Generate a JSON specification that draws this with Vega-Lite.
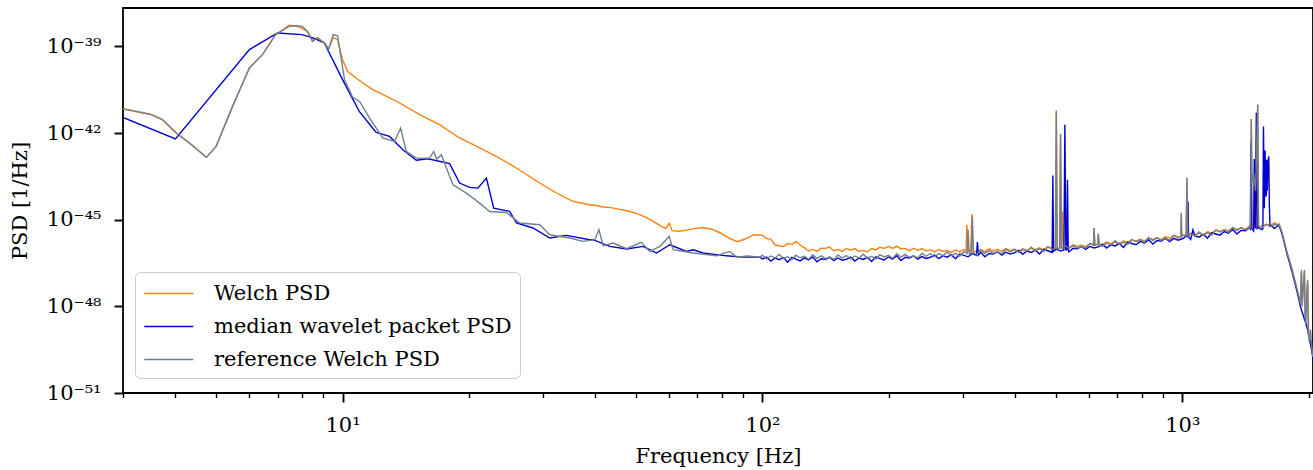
{
  "$schema": "https://vega.github.io/schema/vega-lite/v6.json",
  "width": 1190,
  "height": 385,
  "autosize": {"type": "none"},
  "padding": {"left": 123, "top": 8, "right": 0, "bottom": 77},
  "background": "white",
  "config": {
    "view": {"stroke": "black", "strokeWidth": 1.8},
    "font": "DejaVu Serif"
  },
  "datasets": {
    "welch": [
      {"f":3.0,"p":6.82e-42},{"f":3.49,"p":4.34e-42},{"f":3.72,"p":2.91e-42},{"f":4.01,"p":1.0e-42},{"f":4.31,"p":4.54e-43},{"f":4.74,"p":1.44e-43},{"f":5.0,"p":3.46e-43},{"f":5.47,"p":8.39e-42},{"f":6.0,"p":1.79e-40},{"f":6.45,"p":5.19e-40},{"f":6.93,"p":2.56e-39},{"f":7.46,"p":5.37e-39},{"f":7.88,"p":4.73e-39},{"f":8.25,"p":3.33e-39},{"f":8.48,"p":1.63e-39},{"f":8.71,"p":1.97e-39},{"f":9.05,"p":1.32e-39},{"f":9.26,"p":8.18e-40},{"f":9.5,"p":2.06e-39},{"f":9.73,"p":1.72e-39},{"f":10.0,"p":3.48e-40},{"f":10.28,"p":1.37e-40},{"f":10.76,"p":8.09e-41},{"f":11.79,"p":3.18e-41},{"f":12.25,"p":2.45e-41},{"f":13.68,"p":1.1e-41},{"f":15.26,"p":4.34e-42},{"f":17.03,"p":1.95e-42},{"f":19.0,"p":6.76e-43},{"f":21.21,"p":3.05e-43},{"f":23.25,"p":1.56e-43},{"f":25.95,"p":6.18e-44},{"f":29.49,"p":1.87e-44},{"f":32.31,"p":8.41e-45},{"f":35.4,"p":4.31e-45},{"f":38.8,"p":3.31e-45},
      {"f":39.81,"p":3.16e-45},{"f":41.69,"p":2.75e-45},{"f":43.65,"p":2.63e-45},{"f":45.71,"p":2.29e-45},{"f":47.86,"p":2.0e-45},{"f":50.12,"p":1.66e-45},{"f":52.48,"p":1.26e-45},{"f":54.95,"p":8.71e-46},{"f":57.54,"p":5.75e-46},{"f":58.88,"p":5.01e-46},{"f":60.0,"p":7.59e-46},{"f":60.95,"p":4.17e-46},{"f":63.1,"p":3.98e-46},{"f":66.07,"p":4.37e-46},{"f":69.18,"p":5.01e-46},{"f":72.44,"p":5.25e-46},{"f":75.86,"p":4.68e-46},{"f":79.43,"p":3.47e-46},{"f":83.18,"p":2.29e-46},{"f":87.1,"p":1.74e-46},{"f":91.2,"p":2.19e-46},{"f":95.5,"p":3.02e-46},
      {"f":100,"p":2.91e-46},{"f":102.3,"p":2.22e-46},{"f":104.7,"p":2.14e-46},{"f":107.2,"p":1.33e-46},{"f":109.6,"p":1.25e-46},{"f":112.2,"p":1.17e-46},{"f":114.8,"p":1.49e-46},{"f":117.5,"p":1.4e-46},{"f":120.2,"p":1.78e-46},{"f":123.0,"p":1.33e-46},{"f":125.9,"p":1.08e-46},{"f":128.8,"p":8.24e-47},{"f":131.8,"p":9.33e-47},{"f":134.9,"p":8.0e-47},{"f":138.0,"p":1.04e-46},{"f":141.3,"p":1.02e-46},{"f":144.5,"p":1.13e-46},{"f":147.9,"p":8.43e-47},{"f":151.4,"p":9.33e-47},{"f":154.9,"p":8.0e-47},{"f":158.5,"p":1.01e-46},{"f":162.2,"p":8.83e-47},{"f":166.0,"p":1.0e-46},{"f":169.8,"p":8.0e-47},{"f":173.8,"p":8.65e-47},{"f":177.8,"p":7.76e-47},{"f":182.0,"p":1.01e-46},{"f":186.2,"p":9.04e-47},{"f":190.5,"p":1.12e-46},{"f":195.0,"p":1.01e-46},{"f":199.5,"p":1.19e-46},{"f":204.2,"p":1.01e-46},{"f":208.9,"p":1.2e-46},{"f":213.8,"p":9.84e-47},{"f":218.8,"p":1.02e-46},{"f":223.9,"p":8.51e-47},{"f":229.1,"p":1.03e-46},{"f":234.4,"p":8.63e-47},{"f":239.9,"p":1.0e-46},{"f":245.5,"p":8.38e-47},{"f":251.2,"p":9.2e-47},{"f":257.0,"p":7.69e-47},{"f":263.0,"p":9.33e-47},{"f":269.2,"p":8.0e-47},{"f":275.4,"p":8.65e-47},{"f":281.8,"p":7.41e-47},{"f":288.4,"p":8.99e-47},{"f":295.1,"p":7.69e-47},{"f":302.0,"p":9.33e-47},{"f":305.5,"p":8.5e-47},{"f":306.8,"p":6.71e-46},{"f":309.0,"p":8.0e-47},{"f":313.5,"p":8.5e-47},{"f":315.5,"p":1.57e-45},{"f":317.5,"p":8.5e-47},{"f":323.6,"p":7.59e-47},{"f":331.1,"p":9.2e-47},{"f":338.8,"p":7.87e-47},{"f":346.7,"p":9.77e-47},{"f":354.8,"p":8.38e-47},{"f":363.1,"p":9.42e-47},{"f":371.5,"p":8.05e-47},{"f":380.2,"p":1.0e-46},{"f":389.0,"p":8.57e-47},{"f":398.1,"p":9.27e-47},{"f":407.4,"p":8.13e-47},{"f":416.9,"p":9.86e-47},{"f":426.6,"p":8.63e-47},{"f":436.5,"p":1.05e-46},{"f":446.7,"p":9.18e-47},{"f":457.1,"p":1.06e-46},{"f":467.7,"p":9.25e-47},{"f":478.6,"p":1.15e-46},{"f":489.8,"p":1.01e-46},{"f":498.5,"p":1.0e-46},{"f":501.2,"p":5.5e-42},{"f":503.5,"p":1.0e-46},{"f":510.5,"p":1.05e-46},{"f":512.9,"p":8.7e-43},{"f":515.5,"p":1.05e-46},{"f":518.4,"p":1.95e-45},{"f":521.0,"p":1.1e-46},{"f":524.8,"p":1.21e-46},{"f":537.0,"p":1.06e-46},{"f":549.5,"p":1.35e-46},{"f":562.3,"p":1.18e-46},{"f":575.4,"p":1.31e-46},{"f":588.8,"p":1.17e-46},{"f":602.6,"p":1.46e-46},{"f":614.5,"p":1.35e-46},{"f":616.6,"p":5.13e-46},{"f":619.0,"p":1.35e-46},{"f":629.0,"p":1.41e-46},{"f":631.0,"p":3.24e-46},{"f":633.5,"p":1.41e-46},{"f":645.7,"p":1.37e-46},{"f":660.7,"p":1.7e-46},{"f":676.1,"p":1.49e-46},{"f":691.8,"p":1.69e-46},{"f":707.9,"p":1.48e-46},{"f":724.4,"p":1.84e-46},{"f":741.3,"p":1.64e-46},{"f":758.6,"p":2.04e-46},{"f":776.2,"p":1.83e-46},{"f":794.3,"p":2.11e-46},{"f":812.8,"p":1.85e-46},{"f":831.8,"p":2.34e-46},{"f":851.1,"p":2.06e-46},{"f":871.0,"p":2.33e-46},{"f":891.3,"p":2.04e-46},{"f":912.0,"p":2.59e-46},{"f":933.3,"p":2.27e-46},{"f":955.0,"p":2.88e-46},{"f":977.2,"p":2.53e-46},{"f":992.0,"p":2.6e-46},{"f":994.5,"p":1.7e-45},{"f":997.0,"p":2.6e-46},{"f":1000,"p":2.98e-46},{"f":1021,"p":2.8e-46},{"f":1026,"p":2.5e-44},{"f":1031,"p":2.8e-46},{"f":1047,"p":3.39e-46},{"f":1072,"p":2.97e-46},{"f":1096,"p":3.37e-46},{"f":1122,"p":3.02e-46},{"f":1148,"p":3.84e-46},{"f":1175,"p":3.44e-46},{"f":1202,"p":4.37e-46},{"f":1230,"p":3.92e-46},{"f":1259,"p":4.61e-46},{"f":1288,"p":4.13e-46},{"f":1318,"p":5.25e-46},{"f":1349,"p":4.6e-46},{"f":1380,"p":5.21e-46},{"f":1413,"p":4.68e-46},{"f":1445,"p":5.94e-46},{"f":1455,"p":5.5e-46},{"f":1460,"p":3.0e-42},{"f":1466,"p":5.5e-46},{"f":1479,"p":5.32e-46},{"f":1509,"p":5.6e-46},{"f":1514,"p":9.6e-42},{"f":1519,"p":5.8e-46},{"f":1549,"p":5.93e-46},{"f":1585,"p":6.98e-46},{"f":1622,"p":6.25e-46},{"f":1660,"p":7.94e-46},{"f":1681,"p":6.76e-46},{"f":1700,"p":7.0e-46},{"f":1729,"p":3.5e-46},{"f":1777,"p":7.2e-47},{"f":1826,"p":1.9e-47},{"f":1877,"p":3.9e-48},{"f":1911,"p":1.3e-48},{"f":1922,"p":1.5e-47},{"f":1930,"p":1.1e-48},{"f":1954,"p":1.6e-47},{"f":1965,"p":4.0e-49},{"f":1989,"p":7.0e-48},{"f":2000,"p":1.2e-49},{"f":2038,"p":2.8e-50},{"f":2048,"p":1.9e-50}
    ],
    "median": [
      {"f":3.0,"p":3.49e-42},{"f":4.0,"p":6.24e-43},{"f":6.0,"p":7.73e-40},{"f":7.0,"p":2.93e-39},{"f":8.0,"p":2.56e-39},{"f":8.5,"p":1.97e-39},{"f":9.05,"p":1.32e-39},{"f":10.0,"p":7.06e-41},{"f":10.96,"p":5.64e-42},{"f":11.79,"p":1.5e-42},{"f":12.03,"p":1.06e-42},{"f":12.94,"p":7.67e-43},{"f":13.92,"p":2.65e-43},{"f":14.99,"p":1.15e-43},{"f":15.97,"p":1.29e-43},{"f":17.99,"p":8.71e-44},{"f":19.0,"p":1.86e-44},{"f":20.08,"p":1.32e-44},{"f":21.01,"p":1.24e-44},{"f":22.01,"p":2.77e-44},{"f":22.91,"p":2.53e-45},{"f":25.0,"p":1.95e-45},{"f":25.95,"p":7.76e-46},{"f":28.42,"p":5.16e-46},{"f":31.15,"p":2.32e-46},{"f":34.14,"p":2.86e-46},{"f":38.8,"p":2.03e-46},{"f":39.5,"p":2.03e-46},{"f":43.3,"p":1.19e-46},{"f":47.47,"p":9.66e-47},{"f":51.98,"p":1.19e-46},{"f":55.96,"p":7.02e-47},{"f":60.2,"p":1.36e-46},{"f":65.97,"p":7.98e-47},{"f":68.4,"p":9.14e-47},{"f":72.25,"p":7.02e-47},{"f":82.17,"p":5.62e-47},{"f":90.0,"p":5.07e-47},{"f":98.6,"p":5.07e-47},
      {"f":100,"p":4.37e-47},{"f":102.3,"p":5.07e-47},{"f":104.7,"p":3.72e-47},{"f":107.2,"p":4.73e-47},{"f":109.6,"p":4.12e-47},{"f":112.2,"p":4.9e-47},{"f":114.8,"p":3.39e-47},{"f":117.5,"p":4.95e-47},{"f":120.2,"p":4.32e-47},{"f":123.0,"p":3.76e-47},{"f":125.9,"p":4.79e-47},{"f":128.8,"p":4.03e-47},{"f":131.8,"p":5.13e-47},{"f":134.9,"p":3.51e-47},{"f":138.0,"p":4.47e-47},{"f":141.3,"p":4.17e-47},{"f":144.5,"p":5.07e-47},{"f":147.9,"p":3.85e-47},{"f":151.4,"p":4.73e-47},{"f":154.9,"p":3.98e-47},{"f":158.5,"p":4.27e-47},{"f":162.2,"p":5.07e-47},{"f":166.0,"p":3.72e-47},{"f":169.8,"p":4.73e-47},{"f":173.8,"p":4.22e-47},{"f":177.8,"p":5.01e-47},{"f":182.0,"p":3.55e-47},{"f":186.2,"p":5.19e-47},{"f":190.5,"p":4.52e-47},{"f":195.0,"p":4.03e-47},{"f":199.5,"p":5.13e-47},{"f":204.2,"p":4.32e-47},{"f":208.9,"p":5.62e-47},{"f":213.8,"p":3.85e-47},{"f":218.8,"p":5.01e-47},{"f":223.9,"p":4.68e-47},{"f":229.1,"p":5.56e-47},{"f":234.4,"p":4.32e-47},{"f":239.9,"p":5.31e-47},{"f":245.5,"p":4.57e-47},{"f":251.2,"p":5.01e-47},{"f":257.0,"p":5.96e-47},{"f":263.0,"p":4.47e-47},{"f":269.2,"p":5.69e-47},{"f":275.4,"p":5.07e-47},{"f":281.8,"p":6.17e-47},{"f":288.4,"p":4.47e-47},{"f":295.1,"p":6.53e-47},{"f":302.0,"p":5.82e-47},{"f":309.0,"p":5.19e-47},{"f":316.2,"p":6.76e-47},{"f":323.6,"p":5.82e-47},{"f":325.1,"p":1.68e-46},{"f":327.0,"p":6.0e-47},{"f":331.1,"p":7.41e-47},{"f":338.8,"p":5.19e-47},{"f":346.7,"p":6.76e-47},{"f":354.8,"p":6.46e-47},{"f":363.1,"p":7.85e-47},{"f":371.5,"p":5.96e-47},{"f":380.2,"p":7.5e-47},{"f":389.0,"p":6.46e-47},{"f":398.1,"p":7.08e-47},{"f":407.4,"p":8.61e-47},{"f":416.9,"p":6.31e-47},{"f":426.6,"p":8.22e-47},{"f":436.5,"p":7.33e-47},{"f":446.7,"p":8.91e-47},{"f":457.1,"p":6.46e-47},{"f":467.7,"p":9.44e-47},{"f":478.6,"p":8.41e-47},{"f":489.8,"p":7.33e-47},{"f":491.8,"p":3.4e-44},{"f":493.5,"p":8.0e-47},{"f":501.2,"p":9.55e-47},{"f":512.9,"p":8.22e-47},{"f":522.5,"p":9.0e-47},{"f":525.3,"p":1.94e-42},{"f":528.0,"p":9.0e-47},{"f":530.5,"p":9.0e-47},{"f":532.8,"p":2.4e-44},{"f":535.0,"p":9.0e-47},{"f":537.0,"p":7.67e-47},{"f":549.5,"p":1.02e-46},{"f":562.3,"p":9.77e-47},{"f":575.4,"p":1.19e-46},{"f":588.8,"p":9.44e-47},{"f":602.6,"p":1.19e-46},{"f":616.6,"p":1.05e-46},{"f":631.0,"p":1.15e-46},{"f":645.7,"p":1.4e-46},{"f":660.7,"p":1.05e-46},{"f":676.1,"p":1.36e-46},{"f":691.8,"p":1.24e-46},{"f":707.9,"p":1.51e-46},{"f":724.4,"p":1.1e-46},{"f":741.3,"p":1.68e-46},{"f":758.6,"p":1.5e-46},{"f":776.2,"p":1.36e-46},{"f":794.3,"p":1.78e-46},{"f":812.8,"p":1.53e-46},{"f":831.8,"p":2.04e-46},{"f":851.1,"p":1.43e-46},{"f":871.0,"p":1.91e-46},{"f":891.3,"p":1.82e-46},{"f":912.0,"p":2.26e-46},{"f":933.3,"p":1.76e-46},{"f":955.0,"p":2.26e-46},{"f":977.2,"p":1.95e-46},{"f":1000,"p":2.19e-46},{"f":1023,"p":2.72e-46},{"f":1029,"p":2.6e-46},{"f":1032,"p":4.31e-45},{"f":1035,"p":2.6e-46},{"f":1047,"p":2.09e-46},{"f":1060,"p":4.5e-46},{"f":1072,"p":2.72e-46},{"f":1096,"p":2.48e-46},{"f":1122,"p":3.09e-46},{"f":1148,"p":2.29e-46},{"f":1175,"p":3.51e-46},{"f":1202,"p":3.2e-46},{"f":1230,"p":2.92e-46},{"f":1259,"p":3.89e-46},{"f":1288,"p":3.43e-46},{"f":1318,"p":4.57e-46},{"f":1349,"p":3.2e-46},{"f":1380,"p":4.27e-46},{"f":1413,"p":4.17e-46},{"f":1445,"p":5.19e-46},{"f":1452,"p":4.8e-46},{"f":1458,"p":4.61e-43},{"f":1464,"p":5.0e-46},{"f":1479,"p":4.12e-46},{"f":1484,"p":1.26e-43},{"f":1492,"p":5.0e-46},{"f":1501,"p":5.06e-42},{"f":1507,"p":5.0e-46},{"f":1514,"p":5.31e-46},{"f":1549,"p":4.57e-46},{"f":1556,"p":5.0e-46},{"f":1561,"p":1.7e-42},{"f":1568,"p":2.51e-45},{"f":1575,"p":2.51e-43},{"f":1580,"p":6.31e-45},{"f":1585,"p":7.41e-45},{"f":1587,"p":1.2e-43},{"f":1594,"p":1.0e-44},{"f":1600,"p":1.12e-43},{"f":1607,"p":1.55e-43},{"f":1612,"p":3.16e-45},{"f":1618,"p":6.31e-46},{"f":1622,"p":6.38e-46},{"f":1660,"p":4.9e-46},{"f":1681,"p":6.03e-46},{"f":1700,"p":6.31e-46},{"f":1729,"p":3.16e-46},{"f":1777,"p":6.31e-47},{"f":1826,"p":1.58e-47},{"f":1877,"p":3.16e-48},{"f":1911,"p":1.0e-48},{"f":1930,"p":6.31e-49},{"f":1960,"p":3.16e-49},{"f":1989,"p":1.58e-49},{"f":2020,"p":5.01e-50},{"f":2048,"p":1.58e-50}
    ],
    "ref": [
      {"f":3.0,"p":7.0e-42},{"f":3.49,"p":4.5e-42},{"f":3.72,"p":3.0e-42},{"f":4.01,"p":1.05e-42},{"f":4.31,"p":4.7e-43},{"f":4.74,"p":1.44e-43},{"f":5.0,"p":3.46e-43},{"f":5.47,"p":8.4e-42},{"f":6.0,"p":1.8e-40},{"f":6.45,"p":5.3e-40},{"f":6.93,"p":2.6e-39},{"f":7.46,"p":4.93e-39},{"f":7.75,"p":5.2e-39},{"f":8.03,"p":4.93e-39},{"f":8.25,"p":3.25e-39},{"f":8.48,"p":1.49e-39},{"f":8.71,"p":1.97e-39},{"f":9.05,"p":1.32e-39},{"f":9.26,"p":7.69e-40},{"f":9.5,"p":2.56e-39},{"f":9.73,"p":2.34e-39},{"f":10.11,"p":7.03e-41},{"f":10.56,"p":1.77e-41},{"f":10.98,"p":1.24e-41},{"f":11.6,"p":3.31e-42},{"f":12.48,"p":6.71e-43},{"f":13.3,"p":5.13e-43},{"f":13.75,"p":1.49e-42},{"f":14.18,"p":2.31e-43},{"f":14.99,"p":1.36e-43},{"f":16.12,"p":1.36e-43},{"f":16.48,"p":2.31e-43},{"f":16.78,"p":1.26e-43},{"f":17.19,"p":1.78e-43},{"f":18.32,"p":1.62e-44},{"f":19.72,"p":8.32e-45},{"f":21.21,"p":3.76e-45},{"f":22.41,"p":1.92e-45},{"f":24.56,"p":1.78e-45},{"f":26.42,"p":7.69e-46},{"f":29.49,"p":6.71e-46},{"f":31.15,"p":3.02e-46},{"f":34.76,"p":2.32e-46},{"f":37.4,"p":1.78e-46},{"f":39.87,"p":2.03e-46},{"f":40.8,"p":4.51e-46},{"f":41.74,"p":1.26e-46},{"f":44.1,"p":1.56e-46},{"f":47.47,"p":9.9e-47},{"f":51.5,"p":1.64e-46},{"f":53.9,"p":7.98e-47},{"f":57.0,"p":1.19e-46},{"f":59.95,"p":2.63e-46},{"f":61.3,"p":9.14e-47},{"f":68.4,"p":7.02e-47},{"f":77.8,"p":5.66e-47},{"f":83.65,"p":7.98e-47},{"f":86.8,"p":5.07e-47},{"f":92.0,"p":5.6e-47},{"f":98.6,"p":5.07e-47},
      {"f":100,"p":5.89e-47},{"f":102.3,"p":4.37e-47},{"f":104.7,"p":5.56e-47},{"f":107.2,"p":4.73e-47},{"f":109.6,"p":6.24e-47},{"f":112.2,"p":4.57e-47},{"f":114.8,"p":5.21e-47},{"f":117.5,"p":4.12e-47},{"f":120.2,"p":5.89e-47},{"f":123.0,"p":4.82e-47},{"f":125.9,"p":5.43e-47},{"f":128.8,"p":4.27e-47},{"f":131.8,"p":6.1e-47},{"f":134.9,"p":4.62e-47},{"f":138.0,"p":5.62e-47},{"f":141.3,"p":4.47e-47},{"f":144.5,"p":5.13e-47},{"f":147.9,"p":4.22e-47},{"f":151.4,"p":6.03e-47},{"f":154.9,"p":4.73e-47},{"f":158.5,"p":5.75e-47},{"f":162.2,"p":4.37e-47},{"f":166.0,"p":5.56e-47},{"f":169.8,"p":4.73e-47},{"f":173.8,"p":6.38e-47},{"f":177.8,"p":4.68e-47},{"f":182.0,"p":5.46e-47},{"f":186.2,"p":4.32e-47},{"f":190.5,"p":6.17e-47},{"f":195.0,"p":5.16e-47},{"f":199.5,"p":5.82e-47},{"f":204.2,"p":4.57e-47},{"f":208.9,"p":6.68e-47},{"f":213.8,"p":5.07e-47},{"f":218.8,"p":6.31e-47},{"f":223.9,"p":5.01e-47},{"f":229.1,"p":5.62e-47},{"f":234.4,"p":4.73e-47},{"f":239.9,"p":6.76e-47},{"f":245.5,"p":5.43e-47},{"f":251.2,"p":6.76e-47},{"f":257.0,"p":5.13e-47},{"f":263.0,"p":6.68e-47},{"f":269.2,"p":5.69e-47},{"f":275.4,"p":7.67e-47},{"f":281.8,"p":5.75e-47},{"f":288.4,"p":6.87e-47},{"f":295.1,"p":5.43e-47},{"f":302.0,"p":7.94e-47},{"f":307.3,"p":6.76e-47},{"f":309.0,"p":4.47e-46},{"f":310.7,"p":6.76e-47},{"f":314.5,"p":7.08e-47},{"f":316.2,"p":1.3e-45},{"f":318.0,"p":7.08e-47},{"f":323.6,"p":6.17e-47},{"f":331.1,"p":8.81e-47},{"f":338.8,"p":6.84e-47},{"f":346.7,"p":8.51e-47},{"f":354.8,"p":6.92e-47},{"f":363.1,"p":7.94e-47},{"f":371.5,"p":6.53e-47},{"f":380.2,"p":9.55e-47},{"f":389.0,"p":7.67e-47},{"f":398.1,"p":9.55e-47},{"f":407.4,"p":7.41e-47},{"f":416.9,"p":9.44e-47},{"f":426.6,"p":8.22e-47},{"f":436.5,"p":1.11e-46},{"f":446.7,"p":8.32e-47},{"f":457.1,"p":9.93e-47},{"f":467.7,"p":7.85e-47},{"f":478.6,"p":1.15e-46},{"f":489.8,"p":9.4e-47},{"f":498.5,"p":1.0e-46},{"f":501.2,"p":6.07e-42},{"f":503.5,"p":1.0e-46},{"f":510.5,"p":1.05e-46},{"f":512.9,"p":9.25e-43},{"f":515.5,"p":1.0e-46},{"f":524.8,"p":1.3e-46},{"f":537.0,"p":1.01e-46},{"f":549.5,"p":1.29e-46},{"f":562.3,"p":1.05e-46},{"f":575.4,"p":1.2e-46},{"f":588.8,"p":1.04e-46},{"f":602.6,"p":1.51e-46},{"f":614.5,"p":1.32e-46},{"f":616.6,"p":5.13e-46},{"f":619.0,"p":1.32e-46},{"f":629.0,"p":1.38e-46},{"f":631.0,"p":3.24e-46},{"f":633.5,"p":1.38e-46},{"f":645.7,"p":1.2e-46},{"f":660.7,"p":1.57e-46},{"f":676.1,"p":1.36e-46},{"f":691.8,"p":1.88e-46},{"f":707.9,"p":1.41e-46},{"f":724.4,"p":1.69e-46},{"f":741.3,"p":1.4e-46},{"f":758.6,"p":2.04e-46},{"f":776.2,"p":1.75e-46},{"f":794.3,"p":2.02e-46},{"f":812.8,"p":1.62e-46},{"f":831.8,"p":2.43e-46},{"f":851.1,"p":1.88e-46},{"f":871.0,"p":2.4e-46},{"f":891.3,"p":1.95e-46},{"f":912.0,"p":2.29e-46},{"f":933.3,"p":1.93e-46},{"f":955.0,"p":2.88e-46},{"f":977.2,"p":2.32e-46},{"f":992.0,"p":2.51e-46},{"f":994.5,"p":1.7e-45},{"f":997.0,"p":2.51e-46},{"f":1000,"p":2.95e-46},{"f":1021,"p":2.75e-46},{"f":1026,"p":2.92e-44},{"f":1031,"p":2.75e-46},{"f":1047,"p":3.13e-46},{"f":1072,"p":2.72e-46},{"f":1096,"p":3.76e-46},{"f":1122,"p":2.88e-46},{"f":1148,"p":3.52e-46},{"f":1175,"p":2.92e-46},{"f":1202,"p":4.37e-46},{"f":1230,"p":3.74e-46},{"f":1259,"p":4.42e-46},{"f":1288,"p":3.63e-46},{"f":1318,"p":5.43e-46},{"f":1349,"p":4.22e-46},{"f":1380,"p":5.37e-46},{"f":1413,"p":4.47e-46},{"f":1445,"p":5.25e-46},{"f":1455,"p":5.37e-46},{"f":1460,"p":3.05e-42},{"f":1466,"p":2.0e-44},{"f":1479,"p":4.0e-44},{"f":1495,"p":1.0e-44},{"f":1512,"p":9.57e-42},{"f":1519,"p":6.0e-46},{"f":1549,"p":5.43e-46},{"f":1585,"p":6.92e-46},{"f":1622,"p":5.75e-46},{"f":1660,"p":6.76e-46},{"f":1681,"p":6.76e-46},{"f":1700,"p":6.92e-46},{"f":1729,"p":3.47e-46},{"f":1777,"p":7.08e-47},{"f":1826,"p":1.86e-47},{"f":1877,"p":3.8e-48},{"f":1911,"p":1.26e-48},{"f":1922,"p":1.82e-47},{"f":1930,"p":1.0e-48},{"f":1944,"p":6.31e-48},{"f":1954,"p":1.82e-47},{"f":1960,"p":5.01e-49},{"f":1970,"p":2.51e-49},{"f":1980,"p":3.16e-48},{"f":1989,"p":8.32e-48},{"f":1995,"p":1.26e-49},{"f":2005,"p":6.31e-50},{"f":2020,"p":1.58e-49},{"f":2038,"p":2.51e-50},{"f":2048,"p":1.78e-50}
    ]
  },
  "encoding": {
    "x": {
      "field": "f",
      "type": "quantitative",
      "scale": {"type": "log", "domain": [3, 2048], "nice": false},
      "axis": {
        "title": "Frequency [Hz]",
        "values": [3,4,5,6,7,8,9,10,20,30,40,50,60,70,80,90,100,200,300,400,500,600,700,800,900,1000,2000],
        "labelExpr": "datum.value == 10 ? '10¹' : datum.value == 100 ? '10²' : datum.value == 1000 ? '10³' : ''",
        "labelOverlap": false,
        "labelFlush": false,
        "grid": false,
        "domain": false,
        "tickColor": "black",
        "tickSize": {"condition": {"test": "datum.value == 10 || datum.value == 100 || datum.value == 1000", "value": 9}, "value": 4.5},
        "tickWidth": {"condition": {"test": "datum.value == 10 || datum.value == 100 || datum.value == 1000", "value": 1.9}, "value": 1.4},
        "labelFont": "DejaVu Serif",
        "labelFontSize": 21,
        "labelColor": "black",
        "labelPadding": 12,
        "titleFont": "DejaVu Serif",
        "titleFontSize": 21,
        "titleFontWeight": "normal",
        "titleColor": "black",
        "titlePadding": 10
      }
    },
    "y": {
      "field": "p",
      "type": "quantitative",
      "scale": {"type": "log", "domain": [1e-51, 2.14e-38], "nice": false},
      "axis": {
        "title": "PSD [1/Hz]",
        "values": [1e-51, 1e-48, 1e-45, 1e-42, 1e-39],
        "labelExpr": "datum.value < 1e-50 ? '10⁻⁵¹' : datum.value < 1e-47 ? '10⁻⁴⁸' : datum.value < 1e-44 ? '10⁻⁴⁵' : datum.value < 1e-41 ? '10⁻⁴²' : '10⁻³⁹'",
        "labelOverlap": false,
        "labelFlush": false,
        "grid": false,
        "domain": false,
        "tickColor": "black",
        "tickSize": 9,
        "tickWidth": 1.9,
        "labelFont": "DejaVu Serif",
        "labelFontSize": 21,
        "labelColor": "black",
        "labelPadding": 13,
        "titleFont": "DejaVu Serif",
        "titleFontSize": 21,
        "titleFontWeight": "normal",
        "titleColor": "black",
        "titlePadding": 16
      }
    }
  },
  "layer": [
    {
      "data": {"name": "welch"},
      "mark": {"type": "line", "strokeWidth": 1.4, "clip": true},
      "encoding": {
        "color": {
          "datum": "Welch PSD",
          "type": "nominal",
          "scale": {"domain": ["Welch PSD", "median wavelet packet PSD", "reference Welch PSD"], "range": ["#ff7f0e", "#0000cd", "#708090"]},
          "legend": {
            "orient": "none",
            "legendX": 12,
            "legendY": 264,
            "title": null,
            "symbolType": "M-1,0H3",
            "symbolSize": 600,
            "symbolStrokeWidth": 1.6,
            "labelFont": "DejaVu Serif",
            "labelFontSize": 21,
            "labelColor": "black",
            "labelOffset": 44,
            "labelLimit": 0,
            "rowPadding": 9,
            "padding": 8,
            "strokeColor": "#cccccc",
            "fillColor": "rgba(255,255,255,0.8)",
            "cornerRadius": 5
          }
        }
      }
    },
    {
      "data": {"name": "median"},
      "mark": {"type": "line", "strokeWidth": 1.4, "clip": true},
      "encoding": {"color": {"datum": "median wavelet packet PSD", "type": "nominal"}}
    },
    {
      "data": {"name": "ref"},
      "mark": {"type": "line", "strokeWidth": 1.4, "clip": true},
      "encoding": {"color": {"datum": "reference Welch PSD", "type": "nominal"}}
    }
  ]
}
